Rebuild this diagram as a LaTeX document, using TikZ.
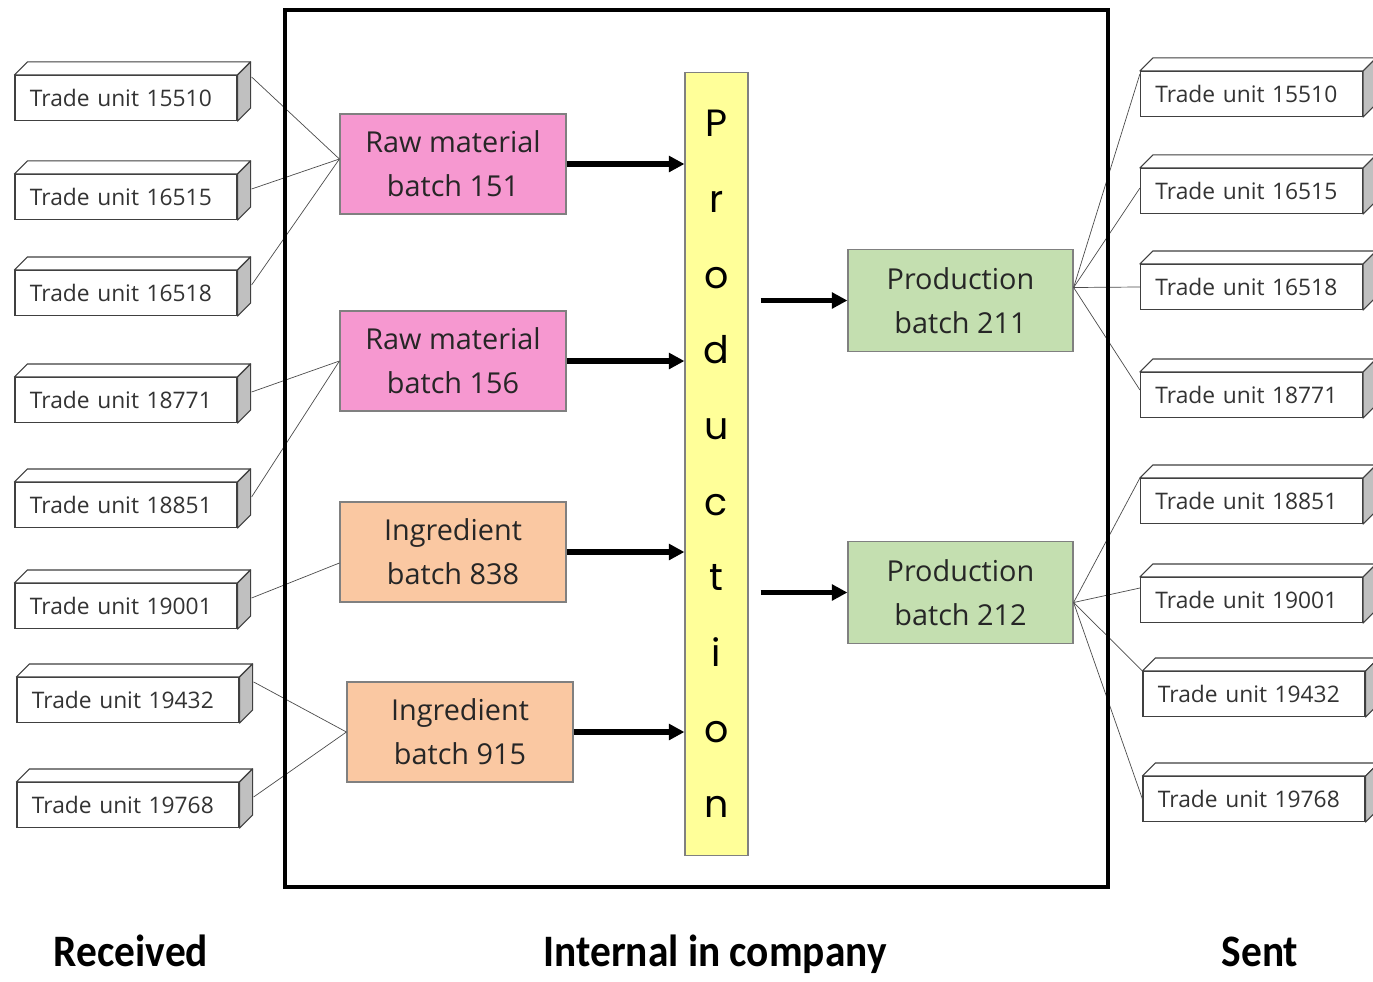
\documentclass[tikz,border=0pt]{standalone}
\usepackage{fontspec}
\usetikzlibrary{arrows.meta,calc}
\newfontfamily\unitfont{Open Sans}
\newfontfamily\prodfont{Poppins}
\newfontfamily\labelfont{Carlito}
\definecolor{rawpink}{RGB}{246,152,208}
\definecolor{ingpeach}{RGB}{250,200,162}
\definecolor{prodgreen}{RGB}{196,223,176}
\definecolor{prodyellow}{RGB}{255,255,153}
\definecolor{sidegray}{RGB}{192,192,192}
\begin{document}
\begin{tikzpicture}[x=0.025cm,y=-0.025cm,
    tradeunit/.style={draw=black!75, fill=white, line width=0.8pt, minimum height=1.125cm,
      inner xsep=0.375cm, inner ysep=0pt, text width=4.8cm, align=left,
      font=\unitfont\fontsize{16.2}{19}\selectfont, text=black!80},
    face/.style={draw=black!75, fill=white, line width=0.8pt, line join=round},
    batch/.style={draw=black!50, line width=0.8pt, minimum width=5.65cm, minimum height=2.5cm,
      align=center, font=\unitfont\fontsize{20.5}{31.3}\selectfont, text=black!85},
    prodbar/.style={draw=black!50, fill=prodyellow, line width=0.8pt, minimum width=1.575cm,
      minimum height=19.55cm, align=center, font=\prodfont\fontsize{27}{53.8}\selectfont},
    link/.style={draw=black!70, line width=0.5pt},
    flow/.style={-{Triangle[length=11pt,width=11pt]}, line width=3.6pt},
    sidelabel/.style={anchor=base, font=\labelfont\bfseries\fontsize{32}{38}\selectfont}]
  \fill[white] (0,0) rectangle (1373,981);
  \useasboundingbox (0,0) rectangle (1373,981);
  \node[tradeunit] (l1) at (126,98) {Trade unit 15510};
  \node[tradeunit] (l2) at (126,197) {Trade unit 16515};
  \node[tradeunit] (l3) at (126,293) {Trade unit 16518};
  \node[tradeunit] (l4) at (126,400) {Trade unit 18771};
  \node[tradeunit] (l5) at (126,505) {Trade unit 18851};
  \node[tradeunit] (l6) at (126,606) {Trade unit 19001};
  \node[tradeunit] (l7) at (128,700) {Trade unit 19432};
  \node[tradeunit] (l8) at (128,805) {Trade unit 19768};
  \node[tradeunit] (r1) at (1251.5,94) {Trade unit 15510};
  \node[tradeunit] (r2) at (1251.5,191) {Trade unit 16515};
  \node[tradeunit] (r3) at (1251.5,287) {Trade unit 16518};
  \node[tradeunit] (r4) at (1251.5,395) {Trade unit 18771};
  \node[tradeunit] (r5) at (1251.5,501) {Trade unit 18851};
  \node[tradeunit] (r6) at (1251.5,600) {Trade unit 19001};
  \node[tradeunit] (r7) at (1254,694) {Trade unit 19432};
  \node[tradeunit] (r8) at (1254,799) {Trade unit 19768};
  \foreach \u in {l1,l2,l3,l4,l5,l6,l7,l8,r1,r2,r3,r4,r5,r6,r7,r8}{
    \filldraw[face] (\u.north west) -- ++(13,-13) -- ([shift={(13,-13)}]\u.north east) -- (\u.north east) -- cycle;
    \filldraw[face, fill=sidegray] (\u.north east) -- ++(13,-13) -- ([shift={(13,-13)}]\u.south east) -- (\u.south east) -- cycle;
  }
  \node[batch, fill=rawpink] (b151) at (453,164) {Raw material\\batch 151};
  \node[batch, fill=rawpink] (b156) at (453,361) {Raw material\\batch 156};
  \node[batch, fill=ingpeach] (b838) at (453,552) {Ingredient\\batch 838};
  \node[batch, fill=ingpeach] (b915) at (460,732) {Ingredient\\batch 915};
  \node[prodbar] (prod) at (716.5,464) {P\\r\\o\\d\\u\\c\\t\\i\\o\\n};
  \node[batch, fill=prodgreen, minimum width=5.625cm, minimum height=2.55cm] (p211) at (960.5,300.5) {Production\\batch 211};
  \node[batch, fill=prodgreen, minimum width=5.625cm, minimum height=2.55cm] (p212) at (960.5,592.5) {Production\\batch 212};
  \draw[link] ([shift={(14,2)}]l1.north east) -- ([shift={(0,-5)}]b151.west);
  \draw[link] ([shift={(14,-8)}]l2.east) -- ([shift={(0,-5)}]b151.west);
  \draw[link] ([shift={(14,-8)}]l3.east) -- ([shift={(0,-5)}]b151.west);
  \draw[link] ([shift={(14,-8)}]l4.east) -- (b156.west);
  \draw[link] ([shift={(14,-8)}]l5.east) -- (b156.west);
  \draw[link] ([shift={(14,-8)}]l6.east) -- ([shift={(0,11)}]b838.west);
  \draw[link] ([shift={(14,5)}]l7.north east) -- (b915.west);
  \draw[link] ([shift={(14,-8)}]l8.east) -- (b915.west);
  \draw[link] ([shift={(0,-13)}]p211.east) -- ([shift={(0,3)}]r1.north west);
  \draw[link] ([shift={(0,-13)}]p211.east) -- ([shift={(0,-3)}]r2.west);
  \draw[link] ([shift={(0,-13)}]p211.east) -- (r3.west);
  \draw[link] ([shift={(0,-13)}]p211.east) -- ([shift={(0,-5)}]r4.west);
  \draw[link] ([shift={(0,10)}]p212.east) -- (r5.north west);
  \draw[link] ([shift={(0,10)}]p212.east) -- ([shift={(0,-12)}]r6.west);
  \draw[link] ([shift={(0,10)}]p212.east) -- (r7.north west);
  \draw[link] ([shift={(0,10)}]p212.east) -- (r8.west);
  \draw[line width=2.2pt] (285,10) rectangle (1108,887);
  \draw[flow] (b151.east) -- (b151.east -| prod.west);
  \draw[flow] (b156.east) -- (b156.east -| prod.west);
  \draw[flow] (b838.east) -- (b838.east -| prod.west);
  \draw[flow] (b915.east) -- (b915.east -| prod.west);
  \draw[flow] ($(prod.east |- p211.west)+(12,0)$) -- (p211.west);
  \draw[flow] ($(prod.east |- p212.west)+(12,0)$) -- (p212.west);
  \node[sidelabel] (rec) at (131,966) {\scalebox{0.92}[1]{Received}};
  \node[sidelabel] (internal) at (715,966) {\scalebox{0.92}[1]{Internal in company}};
  \node[sidelabel] (sent) at (1260,966) {\scalebox{0.92}[1]{Sent}};
\end{tikzpicture}
\end{document}
